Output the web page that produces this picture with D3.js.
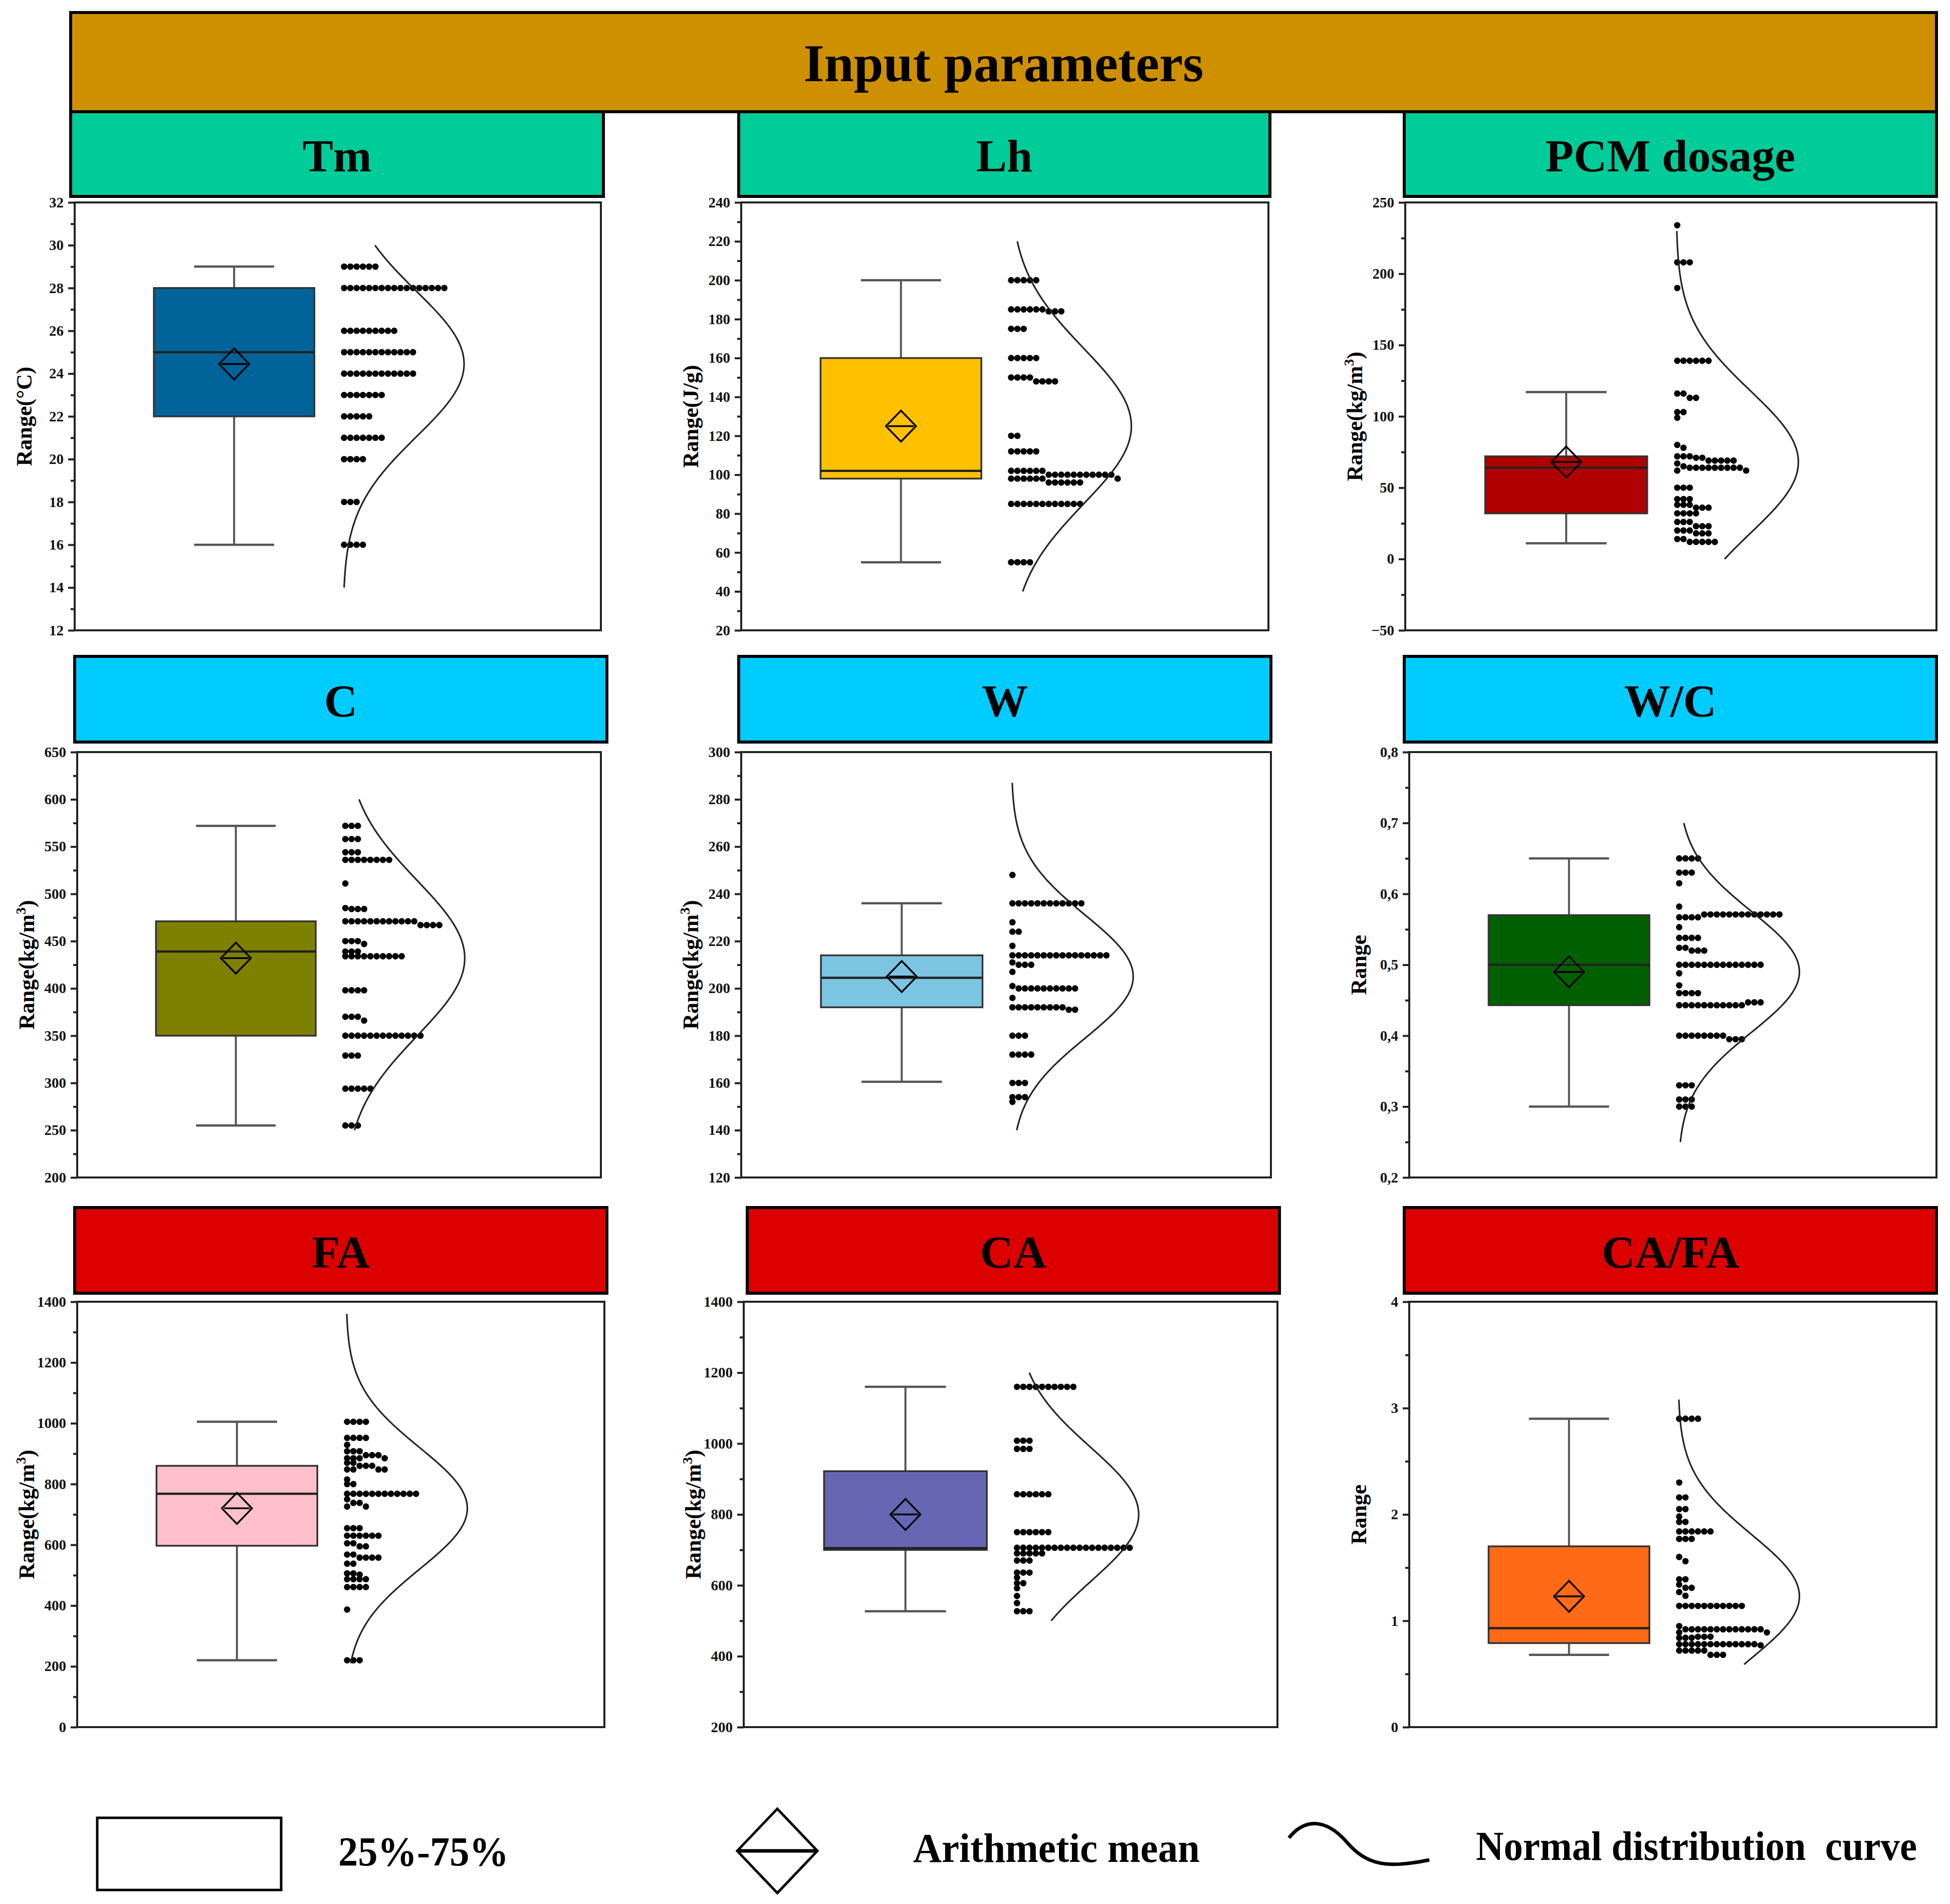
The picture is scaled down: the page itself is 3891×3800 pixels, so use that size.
<!DOCTYPE html>
<html>
<head>
<meta charset="utf-8">
<script src="https://cdn.jsdelivr.net/npm/d3@7"></script>
<style>
  body { margin: 0; background: #fff; }
  svg text { font-family: "Liberation Serif", "Times New Roman", serif; font-weight: bold; }
</style>
</head>
<body>
<svg id="chart" width="3891" height="3800"></svg>
<script>
// ---- data ----
var panelNames = ['Tm', 'Lh', 'PCM dosage', 'C', 'W', 'W/C', 'FA', 'CA', 'CA/FA'];
var axisTitles = ['Range(°C)', 'Range(J/g)', 'Range(kg/m3)', 'Range(kg/m3)', 'Range(kg/m3)', 'Range', 'Range(kg/m3)', 'Range(kg/m3)', 'Range'];
var yDomains = [[12, 32], [20, 240], [-50, 250], [200, 650], [120, 300], [0.2, 0.8], [0, 1400], [200, 1400], [0, 4]];
var yMajor = [2, 20, 50, 50, 20, 0.1, 200, 200, 1];
var boxColors = ['#006399', '#FFC000', '#B00000', '#808000', '#7BC4E2', '#006000', '#FFC0CB', '#6666B3', '#FF6A16'];

var q1 = [22, 98, 32, 350, 192, 0.443, 597, 700, 0.79];
var medians = [25, 102, 64, 439, 204.5, 0.5, 768, 705, 0.93];
var q3 = [28, 160, 72, 471, 214, 0.57, 860, 922, 1.7];
var whiskLow = [16, 55, 11, 255, 160.5, 0.30, 220, 527, 0.68];
var whiskHigh = [29, 200, 117, 572, 236, 0.65, 1005, 1160, 2.9];
var means = [24.45, 125, 68, 432, 205, 0.49, 720, 800, 1.23];
var sds = [3.4, 40, 50, 82, 26, 0.085, 200, 190, 0.58];
var curveLo = [14, 40, 0, 250, 140, 0.25, 210, 500, 0.59];
var curveHi = [30, 220, 230, 600, 287, 0.70, 1360, 1200, 3.08];

// [value, count] rows of the data points
var tmDots = [[29, 6], [28, 17], [26, 9], [25, 12], [24, 12], [23, 7], [22, 5], [21, 7], [20, 4], [18, 3], [16, 4]];
var lhDots = [[200, 5], [185, 6], [184, 3], [175, 3], [160, 5], [150, 4], [148, 4], [120, 2], [112, 5], [102, 6], [100, 11], [98, 7], [96, 6], [85, 12], [55, 4]];
var pcmDots = [[234, 1], [208, 3], [190, 1], [139, 6], [116, 2], [113, 2], [103, 2], [99, 1], [80, 1], [78, 1], [72, 3], [71, 2], [67, 1], [65, 1], [64, 9], [69, 5], [62, 2],
  [50, 3], [42, 3], [38, 3], [36, 3], [32, 4], [26, 3], [23, 3], [20, 3], [18, 3], [14, 2], [12, 5]];
var cDots = [[572, 3], [558, 3], [544, 3], [536, 8], [511, 1], [485, 1], [484, 3], [471, 12], [467, 4], [450, 3], [447, 1], [439, 3], [434, 10],
  [398, 4], [370, 3], [366, 1], [350, 13], [329, 3], [294, 5], [255, 3]];
var wDots = [[248, 1], [236, 12], [228, 1], [224, 2], [218, 1], [214, 16], [211, 1], [210, 3], [207, 1], [201, 1], [200, 10], [196, 1], [192, 9], [191, 2],
  [180, 3], [172, 4], [160, 3], [154, 3], [152, 1]];
var wcDots = [[0.65, 4], [0.63, 3], [0.615, 1], [0.582, 1], [0.567, 4], [0.571, 13], [0.553, 1], [0.538, 4], [0.524, 2], [0.52, 3], [0.5, 14], [0.488, 1],
  [0.471, 1], [0.46, 4], [0.443, 11], [0.447, 3], [0.40, 8], [0.395, 3], [0.33, 3], [0.31, 3], [0.30, 3]];
var faDots = [[1005, 4], [952, 4], [929, 1], [908, 3], [895, 3], [885, 4], [870, 2], [860, 3], [848, 4], [815, 1], [800, 2], [768, 12], [750, 1], [738, 2], [726, 2],
  [655, 3], [630, 6], [605, 2], [595, 2], [568, 2], [558, 4], [538, 2], [506, 2], [502, 1], [487, 4], [461, 4], [387, 1], [220, 3]];
var caDots = [[1160, 10], [1008, 3], [985, 3], [857, 6], [750, 6], [706, 19], [690, 5], [670, 3], [636, 3], [622, 1], [606, 2], [592, 1], [570, 1], [550, 1], [527, 3]];
var cafaDots = [[2.9, 4], [2.3, 1], [2.16, 2], [2.05, 2], [1.98, 1], [1.93, 2], [1.84, 6], [1.77, 3], [1.6, 1], [1.56, 1], [1.39, 2], [1.34, 1], [1.31, 2], [1.27, 1],
  [1.235, 1], [1.14, 11], [0.95, 1], [0.92, 13], [0.89, 2], [0.84, 3], [0.85, 3], [0.78, 13], [0.77, 1], [0.72, 5], [0.68, 3]];
var dotsByPanel = [tmDots, lhDots, pcmDots, cDots, wDots, wcDots, faDots, caDots, cafaDots];

var legendLabels = ['25%-75%', 'Arithmetic mean', 'Normal distribution  curve'];

// ---- layout ----
var plotRects = [
  [149, 1199, 404, 1258], [1479, 2531, 404, 1258], [2804, 3864, 404, 1258],
  [154, 1199, 1501, 2350], [1479, 2536, 1501, 2350], [2812, 3864, 1501, 2350],
  [154, 1206, 2598, 3447], [1484, 2549, 2598, 3447], [2812, 3864, 2598, 3447]
];
var headerRects = [
  [141, 1204, 223, 392], [1474, 2534, 223, 392], [2802, 3864, 223, 392],
  [149, 1211, 1310, 1481], [1474, 2536, 1310, 1481], [2802, 3864, 1310, 1481],
  [149, 1211, 2410, 2581], [1491, 2553, 2410, 2581], [2802, 3864, 2410, 2581]
];
var headerColors = ['#00CC99', '#00CCFF', '#DD0000'];

var svg = d3.select('#chart');

// title bar
svg.append('rect')
  .attr('x', 141).attr('y', 25).attr('width', 3864 - 141).attr('height', 198)
  .attr('fill', '#CF9000').attr('stroke', '#000').attr('stroke-width', 6);
svg.append('text')
  .attr('x', (141 + 3864) / 2).attr('y', 124 + 38)
  .attr('text-anchor', 'middle').attr('font-size', 106)
  .text('Input parameters');

panelNames.forEach(function(name, i) {
  var h = headerRects[i];
  svg.append('rect')
    .attr('x', h[0]).attr('y', h[2]).attr('width', h[1] - h[0]).attr('height', h[3] - h[2])
    .attr('fill', headerColors[Math.floor(i / 3)])
    .attr('stroke', '#000').attr('stroke-width', 6);
  svg.append('text')
    .attr('x', (h[0] + h[1]) / 2).attr('y', (h[2] + h[3]) / 2 + 34)
    .attr('text-anchor', 'middle').attr('font-size', 92)
    .text(name);

  drawPanel(i);
});

function drawPanel(i) {
  var r = plotRects[i];
  var x = d3.scaleLinear().domain([0, 1]).range([r[0], r[1]]);
  var y = d3.scaleLinear().domain(yDomains[i]).range([r[3], r[2]]);
  var g = svg.append('g').attr('class', 'panel');

  var step = yMajor[i], lo = yDomains[i][0], hi = yDomains[i][1];
  var nMaj = Math.round((hi - lo) / step);
  var majors = d3.range(nMaj + 1).map(function(k) { return +(lo + k * step).toFixed(4); });
  var minors = d3.range(nMaj).map(function(k) { return +(lo + (k + 0.5) * step).toFixed(4); });
  var fmt = step < 1 ? function(d) { return d3.format('.1f')(d).replace('.', ','); } : d3.format('d');

  // frame
  g.append('rect')
    .attr('x', r[0]).attr('y', r[2]).attr('width', r[1] - r[0]).attr('height', r[3] - r[2])
    .attr('fill', 'none').attr('stroke', '#222').attr('stroke-width', 4);

  var ax = g.append('g').attr('transform', 'translate(' + r[0] + ',0)')
    .call(d3.axisLeft(y).tickValues(majors).tickSize(13).tickPadding(9).tickFormat(fmt));
  ax.select('.domain').remove();
  ax.selectAll('line').attr('stroke', '#222').attr('stroke-width', 4);
  ax.selectAll('text').attr('font-size', 29).attr('fill', '#111')
    .style('font-family', '"Liberation Serif", serif').style('font-weight', 'bold');

  var axm = g.append('g').attr('transform', 'translate(' + r[0] + ',0)')
    .call(d3.axisLeft(y).tickValues(minors).tickSize(8).tickFormat(''));
  axm.select('.domain').remove();
  axm.selectAll('line').attr('stroke', '#222').attr('stroke-width', 4);

  // axis title
  var t = g.append('text')
    .attr('transform', 'translate(' + (r[0] - 86) + ',' + ((r[2] + r[3]) / 2) + ') rotate(-90)')
    .attr('text-anchor', 'middle').attr('font-size', 44);
  var title = axisTitles[i];
  if (title.indexOf('m3') >= 0) {
    t.append('tspan').text('Range(kg/m');
    t.append('tspan').attr('dy', -17).attr('font-size', 28).text('3');
    t.append('tspan').attr('dy', 17).text(')');
  } else {
    t.text(title);
  }

  // box plot
  var cx = x(0.303), bw = (r[1] - r[0]) * 0.305, cw = (r[1] - r[0]) * 0.152;
  g.append('line')
    .attr('x1', cx).attr('x2', cx).attr('y1', y(whiskLow[i])).attr('y2', y(whiskHigh[i]))
    .attr('stroke', '#555').attr('stroke-width', 4);
  [whiskLow[i], whiskHigh[i]].forEach(function(v) {
    g.append('line')
      .attr('x1', cx - cw / 2).attr('x2', cx + cw / 2).attr('y1', y(v)).attr('y2', y(v))
      .attr('stroke', '#555').attr('stroke-width', 4.5);
  });
  g.append('rect')
    .attr('x', cx - bw / 2).attr('y', y(q3[i])).attr('width', bw).attr('height', y(q1[i]) - y(q3[i]))
    .attr('fill', boxColors[i]).attr('stroke', '#333').attr('stroke-width', 3.5);
  g.append('line')
    .attr('x1', cx - bw / 2).attr('x2', cx + bw / 2).attr('y1', y(medians[i])).attr('y2', y(medians[i]))
    .attr('stroke', '#222').attr('stroke-width', 4.5);

  // mean diamond
  var my = y(means[i]), dw = 30, dh = 31;
  g.append('path')
    .attr('d', 'M' + cx + ',' + (my - dh) + 'L' + (cx + dw) + ',' + my + 'L' + cx + ',' + (my + dh) + 'L' + (cx - dw) + ',' + my + 'Z')
    .attr('fill', 'none').attr('stroke', '#000').attr('stroke-width', 3.5);
  g.append('line')
    .attr('x1', cx - dw * 0.85).attr('x2', cx + dw * 0.85).attr('y1', my).attr('y2', my)
    .attr('stroke', '#000').attr('stroke-width', 3.5);

  // data points, stacked side by side
  var pitch = 12.5, base = x(0.512), placed = [];
  var pts = [];
  dotsByPanel[i].forEach(function(row) {
    for (var j = 0; j < row[1]; j++) {
      var yy = y(row[0]), k = 0;
      while (placed.some(function(p) { return p.k === k && Math.abs(p.y - yy) < 9; })) k++;
      placed.push({ k: k, y: yy });
      pts.push({ x: base + k * pitch, y: yy });
    }
  });
  g.selectAll('circle.pt').data(pts).enter().append('circle')
    .attr('class', 'pt')
    .attr('cx', function(d) { return d.x; })
    .attr('cy', function(d) { return d.y; })
    .attr('r', 6.4).attr('fill', '#000');

  // normal distribution curve
  var steps = 160;
  var curvePts = d3.range(steps + 1).map(function(k) {
    var v = curveLo[i] + (curveHi[i] - curveLo[i]) * k / steps;
    var z = (v - means[i]) / sds[i];
    return [0.51 + 0.23 * Math.exp(-0.5 * z * z), v];
  });
  g.append('path')
    .datum(curvePts)
    .attr('d', d3.line().x(function(d) { return x(d[0]); }).y(function(d) { return y(d[1]); }))
    .attr('fill', 'none').attr('stroke', '#222').attr('stroke-width', 3.2);
}

// ---- legend ----
var lg = svg.append('g').attr('class', 'legend');
lg.append('rect')
  .attr('x', 194).attr('y', 3628).attr('width', 367).attr('height', 144)
  .attr('fill', '#fff').attr('stroke', '#000').attr('stroke-width', 5);
lg.append('text').attr('x', 675).attr('y', 3723).attr('font-size', 82)
  .attr('textLength', 340).attr('lengthAdjust', 'spacingAndGlyphs').text(legendLabels[0]);

var lx = 1551, ly = 3694;
lg.append('path')
  .attr('d', 'M' + lx + ',' + (ly - 84) + 'L' + (lx + 80) + ',' + ly + 'L' + lx + ',' + (ly + 84) + 'L' + (lx - 80) + ',' + ly + 'Z')
  .attr('fill', 'none').attr('stroke', '#000').attr('stroke-width', 5);
lg.append('line')
  .attr('x1', lx - 80).attr('x2', lx + 80).attr('y1', ly).attr('y2', ly)
  .attr('stroke', '#000').attr('stroke-width', 7);
lg.append('text').attr('x', 1822).attr('y', 3716).attr('font-size', 82)
  .attr('textLength', 572).attr('lengthAdjust', 'spacingAndGlyphs').text(legendLabels[1]);

lg.append('path')
  .attr('d', 'M2572,3668 C2604,3628 2646,3630 2686,3675 C2726,3722 2766,3730 2852,3712')
  .attr('fill', 'none').attr('stroke', '#000').attr('stroke-width', 7);
lg.append('text').attr('x', 2945).attr('y', 3712).attr('font-size', 82)
  .attr('textLength', 880).attr('lengthAdjust', 'spacingAndGlyphs')
  .style('white-space', 'pre').text(legendLabels[2]);
</script>
</body>
</html>
